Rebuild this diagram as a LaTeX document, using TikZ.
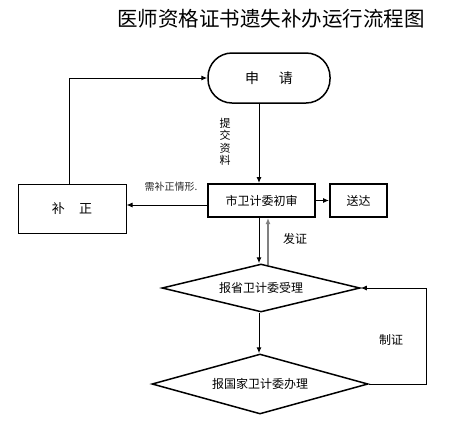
\documentclass[tikz,border=0pt]{standalone}
\usepackage{fontspec}
\newfontfamily\cjk{Noto Sans CJK SC}
\usetikzlibrary{shapes.geometric,arrows.meta}
\tikzset{
  base/.style={font=\cjk, inner sep=0pt, text=black},
  thinbox/.style={base, draw, line width=1pt, rectangle},
  thickbox/.style={base, draw, line width=2pt, rectangle},
  pill/.style={base, draw, line width=1.5pt, rectangle, rounded corners=24pt},
  dia/.style={base, draw, line width=1.5pt, diamond},
  arr/.style={line width=1pt, -{Latex[length=6pt,width=5pt]}},
  grayarr/.style={line width=1.5pt, draw=gray, -{Latex[length=6pt,width=5pt]}},
  lab/.style={base, font=\cjk\fontsize{12pt}{14pt}\selectfont},
}
\begin{document}
\begin{tikzpicture}[x=1pt,y=-1pt]
\useasboundingbox (0,0) rectangle (454,421);
\node[base, font=\cjk\fontsize{20.5pt}{23pt}\selectfont] (title) at (271,19) {医师资格证书遗失补办运行流程图};
\node[pill, minimum width=122pt, minimum height=50pt, font=\cjk\fontsize{14pt}{16pt}\selectfont] (apply) at (269,78) {申\hspace{1.4em}请};
\node[thickbox, minimum width=107pt, minimum height=33pt, font=\cjk\fontsize{12pt}{14pt}\selectfont] (check) at (261.5,200.5) {市卫计委初审};
\node[thickbox, minimum width=57pt, minimum height=33pt, font=\cjk\fontsize{12pt}{14pt}\selectfont] (deliver) at (358.5,200.5) {送达};
\node[thinbox, minimum width=108pt, minimum height=49pt, font=\cjk\fontsize{13pt}{15pt}\selectfont] (fix) at (72,208.5) {补\hspace{1.1em}正};
\node[dia, shape aspect=4.125, minimum width=198pt, minimum height=48pt, font=\cjk\fontsize{12pt}{14pt}\selectfont] (d1) at (261,288) {报省卫计委受理};
\node[dia, shape aspect=3.6, minimum width=216pt, minimum height=60pt, font=\cjk\fontsize{12pt}{14pt}\selectfont] (d2) at (260,384) {报国家卫计委办理};
\coordinate (ax) at (259,0);
% connectors
\draw[arr] (apply.south -| ax) -- (check.north -| ax);
\draw[arr] (check.east) -- (deliver.west);
\draw[arr] ([yshift=-4.5pt]check.west) -- ([yshift=-4.5pt]check.west -| fix.east);
\draw[arr] ([xshift=-2.5pt]fix.north) |- (apply.west);
\draw[arr] (check.south -| ax) -- ([xshift=-2pt]d1.north);
\draw[grayarr] ([xshift=7pt,yshift=-2pt]d1.north) -- (check.south -| 268,0);
\draw[arr] ([xshift=-2pt]d1.south) -- ([xshift=-1pt]d2.north);
\draw[arr] (d2.east) -- ++(58,0) |- (d1.east);
% labels
\node[base, font=\cjk\fontsize{11pt}{12.5pt}\selectfont, align=center] (l1) at (225,142) {提\\交\\资\\料};
\node[base, font=\cjk\fontsize{10pt}{12pt}\selectfont, text=black!85] (l2) at (171,187) {需补正情形.};
\node[lab] (l3) at (295,239) {发证};
\node[lab] (l4) at (391,340) {制证};
\end{tikzpicture}
\end{document}
